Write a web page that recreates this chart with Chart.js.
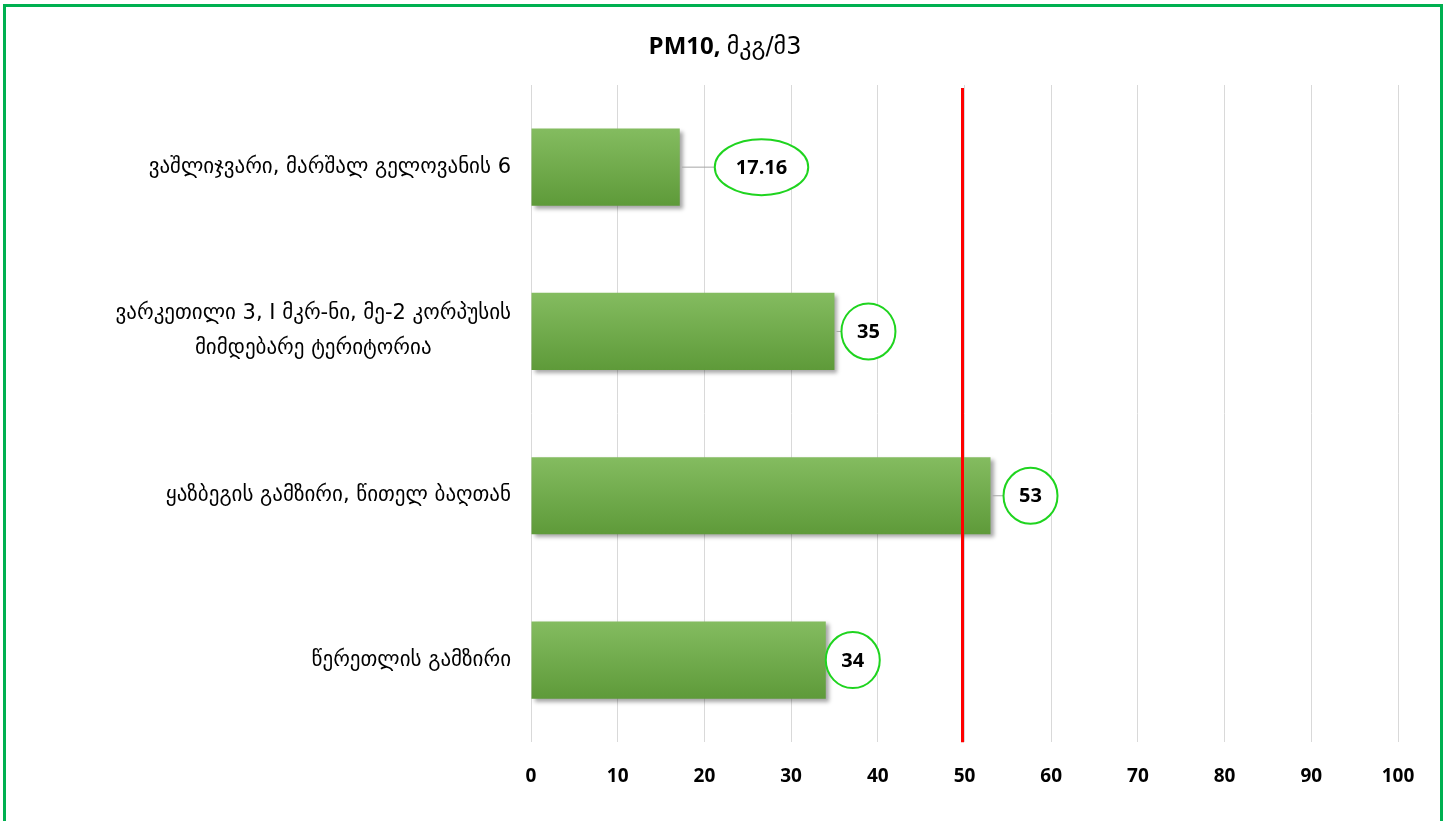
<!DOCTYPE html>
<html>
<head>
<meta charset="utf-8">
<script src="https://cdn.jsdelivr.net/npm/chart.js@4/dist/chart.umd.min.js"></script>
<style>
  html, body { margin: 0; padding: 0; background: #fff; overflow: hidden; }
  #frame { position: absolute; left: 3px; top: 4px; width: 1434px; height: 840px; border: 3px solid #00b050; }
  #wrap { position: absolute; left: 0; top: 0; width: 1448px; height: 821px; }
</style>
</head>
<body>
<div id="frame"></div>
<div id="wrap"><canvas id="pmChart"></canvas></div>
<script>
// chart data
const stations = [
  'ვაშლიჯვარი, მარშალ გელოვანის 6',
  ['ვარკეთილი 3, I მკრ-ნი, მე-2 კორპუსის', 'მიმდებარე ტერიტორია'],
  'ყაზბეგის გამზირი, წითელ ბაღთან',
  'წერეთლის გამზირი'
];
const pm10Values = [17.16, 35, 53, 34];
const pm10Limit = 50;
const axisMin = 0;
const axisMax = 100;
const axisStep = 10;
const titleParts = ['PM10, ', 'მკგ/მ3'];

// title with mixed fonts
const mixedTitle = {
  id: 'mixedTitle',
  afterDraw(chart) {
    const ctx = chart.ctx;
    const f1 = 'bold 24px "Open Sans", sans-serif';
    const f2 = '24px "DejaVu Sans", sans-serif';
    ctx.save();
    ctx.font = f1;
    const w1 = ctx.measureText(titleParts[0]).width;
    ctx.font = f2;
    const w2 = ctx.measureText(titleParts[1]).width;
    let x = 725 - (w1 + w2) / 2;
    const y = 47;
    ctx.fillStyle = '#000';
    ctx.textBaseline = 'middle';
    ctx.textAlign = 'left';
    ctx.font = f1;
    ctx.fillText(titleParts[0], x, y);
    ctx.font = f2;
    ctx.fillText(titleParts[1], x + w1, y + 1);
    ctx.restore();
  }
};

// category labels, multi-line blocks centred on their own width
const catLabels = {
  id: 'catLabels',
  afterDraw(chart) {
    const ctx = chart.ctx;
    const scale = chart.scales.y;
    const right = 511;
    const lh = 35;
    ctx.save();
    ctx.font = '21px "DejaVu Sans", sans-serif';
    ctx.fillStyle = '#000';
    ctx.textBaseline = 'middle';
    ctx.textAlign = 'center';
    stations.forEach((lab, i) => {
      const lines = Array.isArray(lab) ? lab : [lab];
      const widest = Math.max(...lines.map(l => ctx.measureText(l).width));
      const cx = right - widest / 2;
      const cy = scale.getPixelForValue(i);
      lines.forEach((l, k) => {
        ctx.fillText(l, cx, cy + (k - (lines.length - 1) / 2) * lh);
      });
    });
    ctx.restore();
  }
};

// red limit line at 50
const limitLine = {
  id: 'limitLine',
  afterDatasetsDraw(chart) {
    const { ctx, chartArea, scales } = chart;
    const x = scales.x.getPixelForValue(pm10Limit) - 2;
    ctx.save();
    ctx.strokeStyle = '#ff0000';
    ctx.lineWidth = 3;
    ctx.beginPath();
    ctx.moveTo(x, chartArea.top + 3);
    ctx.lineTo(x, chartArea.bottom);
    ctx.stroke();
    ctx.restore();
  }
};

// drop shadow under bars
const barShadow = {
  id: 'barShadow',
  beforeDatasetDraw(chart) {
    const ctx = chart.ctx;
    ctx.save();
    ctx.shadowColor = 'rgba(0,0,0,0.35)';
    ctx.shadowBlur = 4;
    ctx.shadowOffsetX = 3;
    ctx.shadowOffsetY = 3;
  },
  afterDatasetDraw(chart) {
    chart.ctx.restore();
  }
};

// value labels in green ellipses with leader lines
const ellipseLabels = {
  id: 'ellipseLabels',
  afterDraw(chart, args, opts) {
    const ctx = chart.ctx;
    const meta = chart.getDatasetMeta(0);
    ctx.save();
    ctx.font = 'bold 20px "Open Sans", sans-serif';
    meta.data.forEach((bar, i) => {
      const text = String(pm10Values[i]);
      const tw = ctx.measureText(text).width;
      const rx = tw > 30 ? tw / 2 + 21 : 27;
      const ry = 28;
      const gap = opts.gaps[i];
      const cx = bar.x + gap + rx;
      const cy = bar.y;
      if (gap > 4) {
        ctx.strokeStyle = '#a6a6a6';
        ctx.lineWidth = 1;
        ctx.beginPath();
        ctx.moveTo(bar.x + 2, cy);
        ctx.lineTo(bar.x + gap, cy);
        ctx.stroke();
      }
      ctx.beginPath();
      ctx.ellipse(cx, cy, rx, ry, 0, 0, Math.PI * 2);
      ctx.fillStyle = '#ffffff';
      ctx.fill();
      ctx.strokeStyle = '#1fd41f';
      ctx.lineWidth = 2;
      ctx.stroke();
      ctx.fillStyle = '#000000';
      ctx.textAlign = 'center';
      ctx.textBaseline = 'middle';
      ctx.fillText(text, cx, cy + 1);
    });
    ctx.restore();
  }
};

const ctx = document.getElementById('pmChart').getContext('2d');
new Chart(ctx, {
  type: 'bar',
  data: {
    labels: stations,
    datasets: [{
      data: pm10Values,
      backgroundColor: (c) => {
        const chart = c.chart;
        const y = chart.scales && chart.scales.y;
        if (!y || c.dataIndex === undefined) return '#6fa94a';
        const cy = y.getPixelForValue(c.dataIndex);
        if (!isFinite(cy)) return '#6fa94a';
        const g = chart.ctx.createLinearGradient(0, cy - 39, 0, cy + 39);
        g.addColorStop(0, '#84bc60');
        g.addColorStop(1, '#5e9a39');
        return g;
      },
      borderWidth: 0,
      barPercentage: 0.47,
      categoryPercentage: 1
    }]
  },
  options: {
    indexAxis: 'y',
    responsive: true,
    maintainAspectRatio: false,
    animation: false,
    layout: { padding: { left: 10, right: 50, top: 85, bottom: 10 } },
    plugins: {
      legend: { display: false },
      tooltip: { enabled: false },
      title: { display: false },
      ellipseLabels: { gaps: [35, 7, 13, 0] }
    },
    scales: {
      x: {
        min: axisMin,
        max: axisMax,
        ticks: {
          stepSize: axisStep,
          color: '#000',
          padding: 23,
          font: { family: '"Open Sans", sans-serif', size: 19, weight: 'bold' }
        },
        grid: { color: '#d9d9d9', lineWidth: 1, drawTicks: false },
        border: { display: false }
      },
      y: {
        ticks: { display: false },
        grid: { display: false },
        border: { display: false },
        afterFit(scale) { scale.width = 521; }
      }
    }
  },
  plugins: [barShadow, limitLine, ellipseLabels, catLabels, mixedTitle]
});
</script>
</body>
</html>
